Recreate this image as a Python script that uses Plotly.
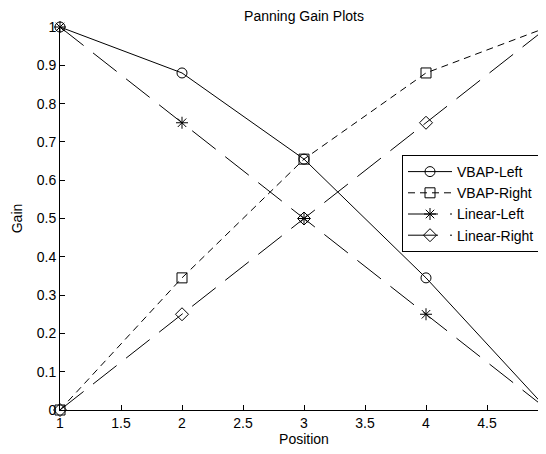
import plotly.graph_objects as go

position = [1, 2, 3, 4, 5]
vbap_left = [1.0, 0.88, 0.655, 0.345, 0.0]
vbap_right = [0.0, 0.345, 0.655, 0.88, 1.0]
linear_left = [1.0, 0.75, 0.5, 0.25, 0.0]
linear_right = [0.0, 0.25, 0.5, 0.75, 1.0]

x_ticks = [1, 1.5, 2, 2.5, 3, 3.5, 4, 4.5, 5]
y_ticks = [0, 0.1, 0.2, 0.3, 0.4, 0.5, 0.6, 0.7, 0.8, 0.9, 1]

FONT = "Liberation Sans, Arial, Helvetica, sans-serif"
W, H = 546, 446
L, T, PW, PH = 52, 19, 488, 383

series = [
    ("VBAP-Left", vbap_left, "solid", "circle-open"),
    ("VBAP-Right", vbap_right, "7px,5px", "square-open"),
    ("Linear-Left", linear_left, "30px,12px", "asterisk-open"),
    ("Linear-Right", linear_right, "30px,12px", "diamond-open"),
]

fig = go.Figure()
for name, ys, dash, sym in series:
    fig.add_trace(go.Scatter(
        x=position, y=ys, name=name, mode="lines+markers",
        line=dict(color="black", width=1, dash=dash),
        marker=dict(symbol=sym, size=10, color="black",
                    line=dict(color="black", width=1)),
        cliponaxis=False,
    ))

fig.update_layout(
    width=W, height=H,
    margin=dict(l=L, r=W - L - PW, t=T, b=H - T - PH, autoexpand=False),
    paper_bgcolor="white", plot_bgcolor="white",
    font=dict(family=FONT, size=14, color="black"),
    title=dict(text="Panning Gain Plots", x=296 / W, xanchor="center",
               y=1 - 3 / H, yanchor="top", font=dict(size=14)),
    showlegend=True,
    legend=dict(x=(394 - L) / PW, y=(T + PH - 147) / PH, xanchor="left", yanchor="top",
                bgcolor="white", bordercolor="black", borderwidth=1,
                font=dict(size=14), tracegroupgap=0, itemwidth=44),
)
fig.update_xaxes(
    range=[1, 5], tickvals=x_ticks, ticktext=[str(t) for t in x_ticks],
    ticks="inside", ticklen=5, tickcolor="black", showgrid=False,
    zeroline=False, showline=True, linecolor="black", linewidth=1,
    automargin=False,
    title=dict(text="Position", standoff=2, font=dict(size=14)), tickfont=dict(size=14),
)
fig.update_yaxes(
    range=[0, 1], tickvals=y_ticks, ticktext=[("%g" % t) for t in y_ticks],
    ticks="inside", ticklen=5, tickcolor="black", showgrid=False,
    zeroline=False, showline=True, linecolor="black", linewidth=1,
    automargin=False,
    title=dict(text="Gain", standoff=10, font=dict(size=14)), tickfont=dict(size=14),
)

fig.write_html("out.html")
